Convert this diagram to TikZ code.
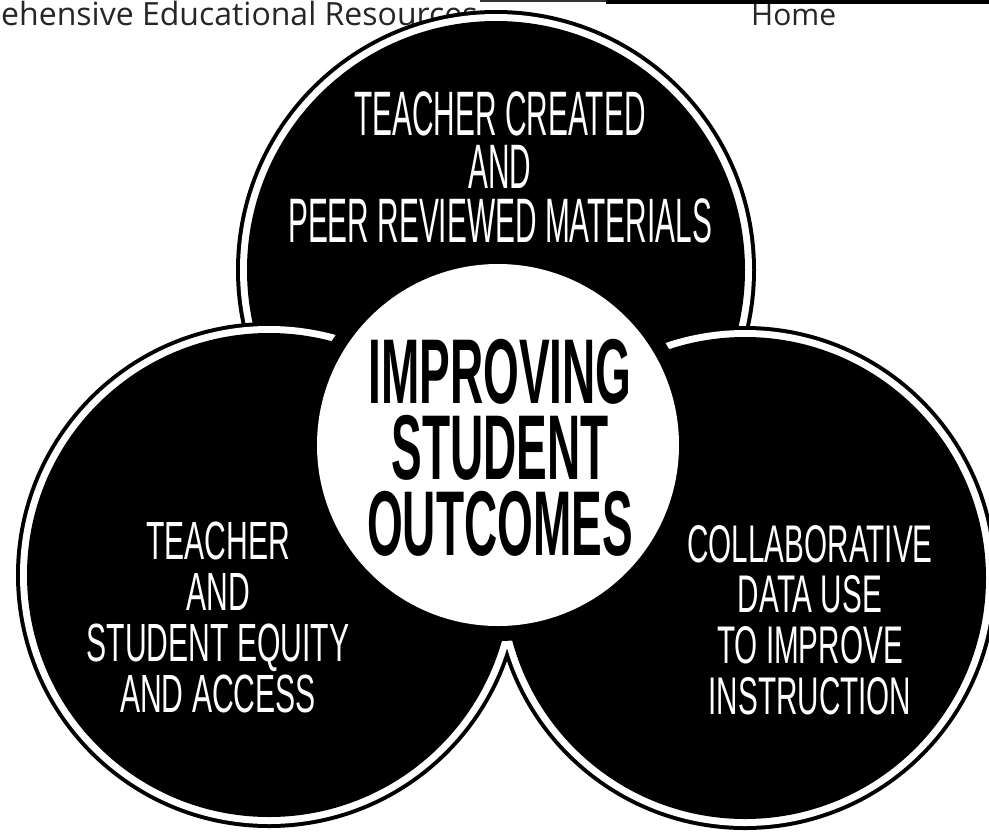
\documentclass[tikz,border=0pt]{standalone}
\usepackage{fontspec}
\setmainfont{Liberation Sans}
\newfontfamily\hdrfont{Open Sans}
\newfontfamily\topfont[FakeStretch=0.475]{Liberation Sans}
\newfontfamily\sidefont[FakeStretch=0.56]{Liberation Sans}
\newfontfamily\midfont[FakeStretch=0.5]{Liberation Sans}
\tikzset{
  circtext/.style={text=white, align=center, inner sep=0pt},
  hdrtext/.style={text=black!85, inner sep=0pt, anchor=base west, font=\hdrfont\fontsize{32}{36}\selectfont},
}
\begin{document}
\begin{tikzpicture}[x=1pt,y=-1pt]
\useasboundingbox[fill=white] (0,0) rectangle (989,831);
% header
\node[hdrtext] (hdr) at (1,25) {ehensive Educational Resources};
\node[hdrtext, font=\hdrfont\fontsize{30}{36}\selectfont] (home) at (751,25) {Home};
\fill[black!80] (480,0) rectangle (608,2);
\fill[black] (606,0) rectangle (989,4);
% top circle
\fill[black] (496,270) circle [radius=260pt];
\fill[white] (496,270) circle [radius=256pt];
\fill[black] (496,270) circle [radius=249pt];
% left and right circles (same layer)
\fill[black] (269,575) circle [radius=253pt];
\fill[black] (745,578) circle [radius=252pt];
\fill[white] (269,575) circle [radius=249pt];
\fill[white] (745,578) circle [radius=248pt];
\fill[black] (269,575) circle [radius=242pt];
\fill[black] (745,578) circle [radius=241pt];
% centre disc
\fill[black] (498,445) circle [radius=196pt];
\fill[white] (498,445) circle [radius=181pt];
% texts
\node[circtext, font=\topfont\fontsize{62.8}{53.5}\selectfont] (toptext) at (500,167)
  {TEACHER CREATED\\AND\\PEER REVIEWED MATERIALS};
\node[circtext, font=\sidefont\fontsize{53.8}{51}\selectfont] (lefttext) at (218,617.5)
  {TEACHER\\AND\\STUDENT EQUITY\\AND ACCESS};
\node[circtext, font=\sidefont\fontsize{53}{50.7}\selectfont] (righttext) at (810,620)
  {COLLABORATIVE\\DATA USE\\TO IMPROVE\\INSTRUCTION};
\node[align=center, inner sep=0pt, text=black, font=\midfont\bfseries\fontsize{92}{76}\selectfont] (midtext) at (500,447.5)
  {IMPROVING\\STUDENT\\OUTCOMES};
\end{tikzpicture}
\end{document}
